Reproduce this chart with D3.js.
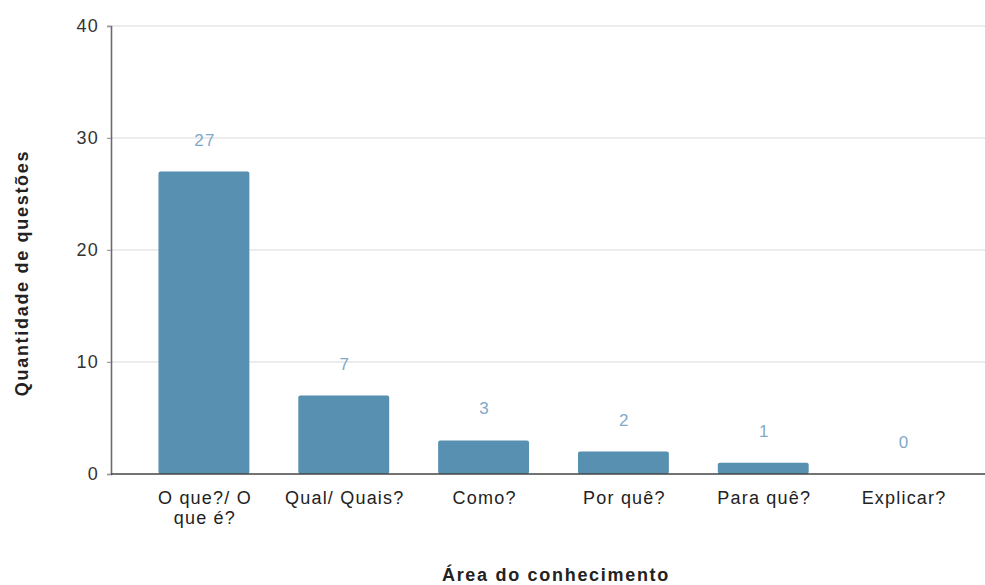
<!DOCTYPE html>
<html>
<head>
<meta charset="utf-8">
<script src="https://cdn.jsdelivr.net/npm/d3@7/dist/d3.min.js"></script>
<style>
  html, body { margin: 0; padding: 0; background: #fff; }
  svg { display: block; font-family: "Liberation Sans", Arial, sans-serif; }
  text { letter-spacing: 1.2px; }
  text.title { letter-spacing: 1.7px; }
</style>
</head>
<body>
<svg id="chart" width="985" height="585"></svg>
<script>
// Question types and how many questions of each type were counted
const categories = ["O que?/ O que é?", "Qual/ Quais?", "Como?", "Por quê?", "Para quê?", "Explicar?"];
const categoryLines = [["O que?/ O", "que é?"], ["Qual/ Quais?"], ["Como?"], ["Por quê?"], ["Para quê?"], ["Explicar?"]];
const counts = [27, 7, 3, 2, 1, 0];
const yTicks = [0, 10, 20, 30, 40];

const svg = d3.select("#chart");
const plot = { left: 111, right: 985, top: 26, bottom: 474 };

const x = d3.scaleBand()
  .domain(categories)
  .range([134, 973])
  .paddingInner(0.35)
  .paddingOuter(0.175);

const y = d3.scaleLinear()
  .domain([0, 40])
  .range([plot.bottom, plot.top]);

// Horizontal grid lines
svg.append("g")
  .selectAll("line")
  .data(yTicks.filter(t => t > 0))
  .join("line")
  .attr("x1", plot.left - 4)
  .attr("x2", plot.right)
  .attr("y1", d => y(d))
  .attr("y2", d => y(d))
  .attr("stroke", "#d9d9d9")
  .attr("stroke-width", 1.2);

// Y axis
const yAxis = svg.append("g")
  .attr("transform", `translate(${plot.left},0)`)
  .call(d3.axisLeft(y).tickValues(yTicks).tickSize(4).tickPadding(8));
yAxis.select(".domain").attr("stroke", "#6b6b6b").attr("stroke-width", 1.6);
yAxis.selectAll(".tick line").attr("stroke", "#9a9a9a");
yAxis.selectAll(".tick text")
  .attr("font-size", 18)
  .attr("fill", "#333")
  .style("font-family", "'Liberation Sans', Arial, sans-serif");

// Bars
svg.append("g")
  .selectAll("rect")
  .data(categories.map((c, i) => ({ c, v: counts[i] })))
  .join("rect")
  .attr("x", d => x(d.c))
  .attr("y", d => y(d.v))
  .attr("width", x.bandwidth())
  .attr("height", d => y(0) - y(d.v))
  .attr("rx", 2)
  .attr("fill", "#5790b0");

// Value labels above bars
svg.append("g")
  .selectAll("text")
  .data(categories.map((c, i) => ({ c, v: counts[i] })))
  .join("text")
  .attr("x", d => x(d.c) + x.bandwidth() / 2 + 1)
  .attr("y", d => y(d.v) - 26)
  .attr("text-anchor", "middle")
  .attr("font-size", 17)
  .attr("fill", "#7fa9c8")
  .text(d => d.v);

// X axis baseline
svg.append("line")
  .attr("x1", plot.left)
  .attr("x2", plot.right)
  .attr("y1", plot.bottom)
  .attr("y2", plot.bottom)
  .attr("stroke", "#444")
  .attr("stroke-width", 1.4);

// Category labels
const catG = svg.append("g");
categories.forEach((c, i) => {
  const cx = x(c) + x.bandwidth() / 2 + 1;
  const t = catG.append("text")
    .attr("x", cx)
    .attr("y", 504)
    .attr("text-anchor", "middle")
    .attr("font-size", 18)
    .attr("fill", "#222");
  categoryLines[i].forEach((line, j) => {
    t.append("tspan")
      .attr("x", cx)
      .attr("dy", j === 0 ? 0 : 20)
      .text(line);
  });
});

// Axis titles
svg.append("text")
  .attr("class", "title")
  .attr("transform", "translate(28,273) rotate(-90)")
  .attr("text-anchor", "middle")
  .attr("font-size", 18)
  .attr("font-weight", "bold")
  .attr("fill", "#222")
  .text("Quantidade de questões");

svg.append("text")
  .attr("class", "title")
  .attr("x", 556)
  .attr("y", 581)
  .attr("text-anchor", "middle")
  .attr("font-size", 18)
  .attr("font-weight", "bold")
  .attr("fill", "#222")
  .text("Área do conhecimento");
</script>
</body>
</html>
